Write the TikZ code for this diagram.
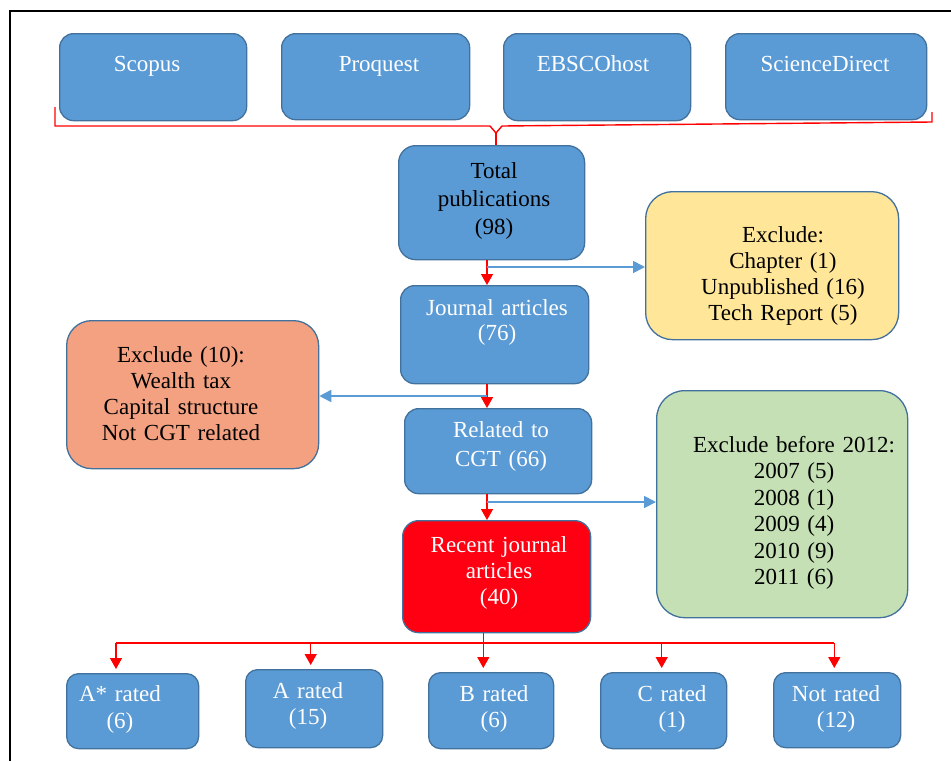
\documentclass[tikz,border=0pt]{standalone}
\usepackage{fontspec}
\setmainfont{Liberation Serif}
\usetikzlibrary{arrows.meta}

\definecolor{dbblue}{HTML}{5B9BD5}
\definecolor{dbline}{HTML}{41719C}
\definecolor{exyellow}{HTML}{FFE699}
\definecolor{exsalmon}{HTML}{F4A182}
\definecolor{exgreen}{HTML}{C5E0B4}
\definecolor{recentred}{HTML}{FF0012}
\definecolor{flowred}{HTML}{FF0000}

\tikzset{
  box/.style={draw=dbline, line width=1.3pt, rounded corners=#1, inner sep=0pt, anchor=north west},
  box/.default=14pt,
  txt/.style={text width=240pt, align=center, anchor=base, inner sep=0pt,
    font=\fontsize{23}{26.5}\selectfont},
  wtxt/.style={txt, text=white},
  redline/.style={draw=flowred, line width=1.4pt},
  redarrow/.style={redline, -{Triangle[length=11pt,width=12pt]}},
  bluearrow/.style={draw=dbblue, line width=1.8pt, -{Triangle[length=12pt,width=12pt]}},
}

\begin{document}
\begin{tikzpicture}[x=1pt,y=-1pt]
\useasboundingbox (0,0) rectangle (951,761);
\draw[line width=1.5pt] (10,761) -- (10,11) -- (951,11);

% databases
\node[box, fill=dbblue, minimum width=187pt, minimum height=87pt] (scopus) at (59,33) {};
\node[box, fill=dbblue, minimum width=188pt, minimum height=86pt] (proquest) at (281,33) {};
\node[box, fill=dbblue, minimum width=187pt, minimum height=87pt] (ebsco) at (503,33) {};
\node[box, fill=dbblue, minimum width=201pt, minimum height=86pt] (sdirect) at (725,33) {};
\node[wtxt] (scopus-t) at (147,71) {Scopus};
\node[wtxt] (proquest-t) at (379,71) {Proquest};
\node[wtxt] (ebsco-t) at (593,71) {EBSCOhost};
\node[wtxt] (sdirect-t) at (825,71) {ScienceDirect};

% brace
\coordinate (brace) at (496,133);
\draw[redline] (55,107) -- (55,126) -- (490,126) -- (brace) -- (502,126) -- (932,122) -- (932,112);

% screening
\node[box=17pt, fill=dbblue, minimum width=186pt, minimum height=114pt] (total) at (398,145) {};
\node[txt, font=\fontsize{23}{28}\selectfont] (total-t) at (494,178) {Total\\publications\\(98)};
\draw[redline] (brace) -- (brace |- total.north);

\node[box=27pt, fill=exyellow, minimum width=253pt, minimum height=148pt] (yellow) at (645,191) {};
\node[txt, font=\fontsize{23}{26}\selectfont] (yellow-t) at (783,242) {Exclude:\\Chapter (1)\\Unpublished (16)\\Tech Report (5)};

\node[box, fill=dbblue, minimum width=188pt, minimum height=98pt] (journal) at (400,285) {};
\node[wtxt, font=\fontsize{23}{25}\selectfont] (journal-t) at (497,315) {Journal articles\\(76)};

\node[box=25pt, fill=exsalmon, minimum width=252pt, minimum height=148pt] (salmon) at (66,320) {};
\node[txt, font=\fontsize{23}{26}\selectfont] (salmon-t) at (181,362) {Exclude (10):\\Wealth tax\\Capital structure\\Not CGT related};

\node[box, fill=dbblue, minimum width=187pt, minimum height=85pt] (related) at (404,408) {};
\node[wtxt, font=\fontsize{23}{29}\selectfont] (related-t) at (501,437) {Related to\\CGT (66)};

\node[box=28pt, fill=exgreen, minimum width=251pt, minimum height=227pt] (green) at (656,390) {};
\node[txt] (green-t) at (794,452) {Exclude before 2012:\\2007 (5)\\2008 (1)\\2009 (4)\\2010 (9)\\2011 (6)};

\node[box=16pt, fill=recentred, minimum width=188pt, minimum height=112pt] (recent) at (402,520) {};
\node[wtxt, font=\fontsize{23}{26}\selectfont] (recent-t) at (499,552) {Recent journal\\articles\\(40)};

\coordinate (j1) at (487,267);
\coordinate (j2) at (487,396);
\coordinate (j3) at (487,502);
\draw[redarrow] (j1 |- total.south) -- (j1 |- journal.north);
\draw[bluearrow] (j1) -- (j1 -| yellow.west);
\draw[redarrow] (j2 |- journal.south) -- (j2 |- related.north);
\draw[bluearrow] (j2) -- (j2 -| salmon.east);
\draw[redarrow] (j3 |- related.south) -- (j3 |- recent.north);
\draw[bluearrow] (j3) -- (j3 -| green.west);

% ratings
\node[box=12pt, fill=dbblue, minimum width=132pt, minimum height=75pt] (astar) at (66,673) {};
\node[box=12pt, fill=dbblue, minimum width=137pt, minimum height=78pt] (arated) at (245,669) {};
\node[box=12pt, fill=dbblue, minimum width=125pt, minimum height=76pt] (brated) at (428,672) {};
\node[box=12pt, fill=dbblue, minimum width=126pt, minimum height=76pt] (crated) at (600,672) {};
\node[box=12pt, fill=dbblue, minimum width=127pt, minimum height=75pt] (notrated) at (773,672) {};
\node[wtxt] (astar-t) at (120,701.5) {A* rated\\(6)};
\node[wtxt] (arated-t) at (308,698) {A rated\\(15)};
\node[wtxt] (brated-t) at (494,701) {B rated\\(6)};
\node[wtxt] (crated-t) at (672,701) {C rated\\(1)};
\node[wtxt] (notrated-t) at (836,701) {Not rated\\(12)};

\coordinate (r1) at (116,643);
\coordinate (r2) at (310.7,643);
\coordinate (r3) at (483.3,643);
\coordinate (r4) at (661.7,643);
\coordinate (r5) at (834.3,643);
\draw[redline] (r3 |- recent.south) -- (r3);
\draw[redline] (r1) -- (r5);
\foreach \r/\b in {r1/astar,r2/arated,r3/brated,r4/crated,r5/notrated}
  \draw[redarrow, shorten >=4pt] (\r) -- (\r |- \b.north);
\end{tikzpicture}
\end{document}
